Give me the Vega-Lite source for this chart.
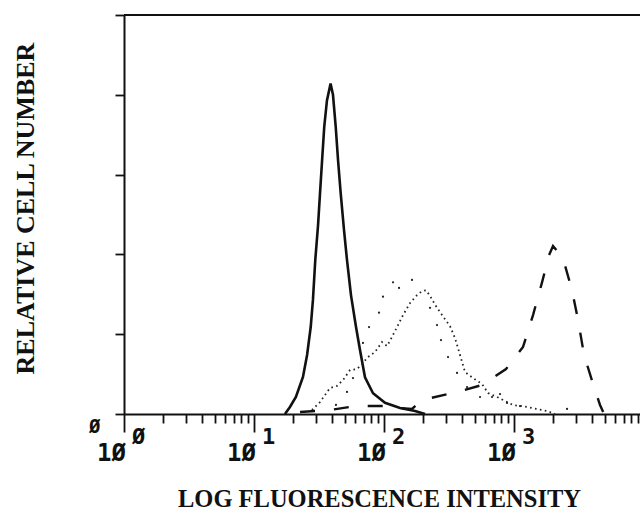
{
  "$schema": "https://vega.github.io/schema/vega-lite/v6.json",
  "autosize": {"type": "none"},
  "padding": {"left": 124, "top": 15, "right": 0, "bottom": 101},
  "width": 516,
  "height": 399,
  "background": "white",
  "config": {"view": {"stroke": null}},
  "datasets": {
    "solid": [
      {"x": 17.3, "y": 0}, {"x": 18.9, "y": 0.088}, {"x": 21.0, "y": 0.213}, {"x": 23.8, "y": 0.464},
      {"x": 25.6, "y": 0.739}, {"x": 27.3, "y": 1.09}, {"x": 28.4, "y": 1.43}, {"x": 29.6, "y": 1.93},
      {"x": 31.1, "y": 2.37}, {"x": 32.2, "y": 2.77}, {"x": 33.4, "y": 3.18}, {"x": 34.7, "y": 3.6},
      {"x": 36.4, "y": 3.93}, {"x": 38.8, "y": 4.14}, {"x": 40.5, "y": 4.0}, {"x": 42.5, "y": 3.6},
      {"x": 44.3, "y": 3.18}, {"x": 46.4, "y": 2.77}, {"x": 49.2, "y": 2.31}, {"x": 51.9, "y": 1.93},
      {"x": 55.7, "y": 1.49}, {"x": 60.9, "y": 1.09}, {"x": 65.4, "y": 0.8}, {"x": 71.4, "y": 0.46},
      {"x": 82.3, "y": 0.26}, {"x": 101.8, "y": 0.14}, {"x": 132.8, "y": 0.075}, {"x": 173.2, "y": 0.038},
      {"x": 206.7, "y": 0}
    ],
    "dotted": [
      {"x": 27.9, "y": 0.05}, {"x": 32.2, "y": 0.15}, {"x": 38.4, "y": 0.326}, {"x": 43.5, "y": 0.351},
      {"x": 48.4, "y": 0.426}, {"x": 54.8, "y": 0.551}, {"x": 62.0, "y": 0.564}, {"x": 67.7, "y": 0.627},
      {"x": 75.3, "y": 0.714}, {"x": 85.3, "y": 0.777}, {"x": 96.5, "y": 0.902}, {"x": 105.5, "y": 0.852},
      {"x": 115.2, "y": 0.965}, {"x": 125.9, "y": 1.09}, {"x": 140.0, "y": 1.24}, {"x": 158.5, "y": 1.39},
      {"x": 179.4, "y": 1.49}, {"x": 196.0, "y": 1.54}, {"x": 210.4, "y": 1.55}, {"x": 225.9, "y": 1.48},
      {"x": 246.8, "y": 1.37}, {"x": 279.4, "y": 1.24}, {"x": 321.9, "y": 1.1}, {"x": 351.8, "y": 0.95},
      {"x": 384.2, "y": 0.74}, {"x": 419.9, "y": 0.526}, {"x": 483.8, "y": 0.451}, {"x": 567.4, "y": 0.376},
      {"x": 631, "y": 0.263}, {"x": 739.8, "y": 0.213}, {"x": 823.1, "y": 0.175}, {"x": 982.5, "y": 0.113},
      {"x": 1259, "y": 0.088}, {"x": 1503, "y": 0.063}, {"x": 1794, "y": 0.038}, {"x": 2068, "y": 0}
    ],
    "sparse": [
      {"x": 42.7, "y": 0.113}, {"x": 51.9, "y": 0.276}, {"x": 57.7, "y": 0.451}, {"x": 68.9, "y": 0.89},
      {"x": 76.7, "y": 1.09}, {"x": 91.5, "y": 1.27}, {"x": 98.2, "y": 1.47}, {"x": 117.3, "y": 1.65},
      {"x": 130.5, "y": 1.58}, {"x": 164.2, "y": 1.68}, {"x": 225.9, "y": 1.33}, {"x": 255.7, "y": 1.115},
      {"x": 274.4, "y": 0.927}, {"x": 310.7, "y": 0.714}, {"x": 364.5, "y": 0.514}, {"x": 435.1, "y": 0.338},
      {"x": 547.7, "y": 0.213}, {"x": 677.3, "y": 0.213}, {"x": 780.3, "y": 0.25}, {"x": 883.5, "y": 0.138},
      {"x": 1112, "y": 0.1}, {"x": 2557, "y": 0.063}
    ],
    "dashed": [
      {"x": 22.6, "y": 0.025}, {"x": 38.4, "y": 0.05}, {"x": 54.8, "y": 0.088}, {"x": 71.4, "y": 0.1},
      {"x": 101.8, "y": 0.1}, {"x": 132.8, "y": 0.075}, {"x": 164.2, "y": 0.063}, {"x": 196.0, "y": 0.175},
      {"x": 310.7, "y": 0.25}, {"x": 364.5, "y": 0.276}, {"x": 567.4, "y": 0.363}, {"x": 868, "y": 0.564},
      {"x": 1173, "y": 0.84}, {"x": 1400, "y": 1.24}, {"x": 1642, "y": 1.65}, {"x": 1859, "y": 1.99},
      {"x": 1995, "y": 2.105}, {"x": 2181, "y": 2.03}, {"x": 2382, "y": 1.95}, {"x": 2794, "y": 1.55},
      {"x": 3107, "y": 1.18}, {"x": 3456, "y": 0.74}, {"x": 4125, "y": 0.338}, {"x": 4586, "y": 0.113},
      {"x": 4923, "y": 0}
    ],
    "labels": [
      {"x": 1, "base": "1Ø", "exp": "Ø"},
      {"x": 10, "base": "1Ø", "exp": "1"},
      {"x": 100, "base": "1Ø", "exp": "2"},
      {"x": 1000, "base": "1Ø", "exp": "3"}
    ]
  },
  "layer": [
    {
      "data": {"name": "solid"},
      "mark": {"type": "line", "color": "#111", "strokeWidth": 2.6, "interpolate": "linear"},
      "encoding": {
        "x": {
          "field": "x", "type": "quantitative",
          "scale": {"type": "log", "domain": [1, 9310], "nice": false},
          "axis": {
            "values": [1,2,3,4,5,6,7,8,9,10,20,30,40,50,60,70,80,90,100,200,300,400,500,600,700,800,900,1000,2000,3000,4000,5000,6000,7000,8000,9000],
            "labels": false, "grid": false,
            "domainColor": "#111", "domainWidth": 2,
            "tickColor": "#111", "tickWidth": 1.8,
            "tickSize": {"condition": {"test": "abs(log(datum.value)/LN10 - round(log(datum.value)/LN10)) < 0.001", "value": 18}, "value": 9},
            "title": "LOG FLUORESCENCE INTENSITY",
            "titleFont": "Liberation Serif", "titleFontSize": 24.5, "titleFontWeight": "bold", "titleColor": "#111",
            "titleX": 255, "titleY": 92, "titleAlign": "center", "titleBaseline": "alphabetic"
          }
        },
        "y": {
          "field": "y", "type": "quantitative",
          "scale": {"domain": [0, 5], "nice": false},
          "axis": {
            "values": [0, 1, 2, 3, 4, 5], "grid": false,
            "domainColor": "#111", "domainWidth": 2,
            "tickColor": "#111", "tickWidth": 1.8, "tickSize": 9,
            "labelExpr": "datum.value === 0 ? 'Ø' : ''",
            "labelFont": "DejaVu Sans Mono", "labelFontSize": 19, "labelFontWeight": "bold", "labelColor": "#111",
            "labelBaseline": "top", "labelPadding": 15, "labelOffset": 3, "labelFlush": false, "labelOverlap": false,
            "title": "RELATIVE CELL NUMBER",
            "titleFont": "Liberation Serif", "titleFontSize": 26, "titleFontWeight": "bold", "titleColor": "#111",
            "titleX": -91, "titleY": 193, "titleAngle": -90, "titleAlign": "center", "titleBaseline": "alphabetic"
          }
        }
      }
    },
    {
      "data": {"name": "dotted"},
      "mark": {"type": "line", "color": "#222", "strokeWidth": 1.8, "strokeDash": [1.6, 3.4]},
      "encoding": {"x": {"field": "x", "type": "quantitative"}, "y": {"field": "y", "type": "quantitative"}}
    },
    {
      "data": {"name": "sparse"},
      "mark": {"type": "point", "filled": true, "color": "#222", "size": 5, "opacity": 1},
      "encoding": {"x": {"field": "x", "type": "quantitative"}, "y": {"field": "y", "type": "quantitative"}}
    },
    {
      "data": {"name": "dashed"},
      "mark": {"type": "line", "color": "#111", "strokeWidth": 2.4, "strokeDash": [15, 19]},
      "encoding": {"x": {"field": "x", "type": "quantitative"}, "y": {"field": "y", "type": "quantitative"}}
    },
    {
      "data": {"values": [{"top": 5}]},
      "mark": {"type": "rule", "color": "#111", "strokeWidth": 2},
      "encoding": {"y": {"field": "top", "type": "quantitative"}}
    },
    {
      "data": {"name": "labels"},
      "mark": {"type": "text", "font": "DejaVu Sans Mono", "fontSize": 24, "fontWeight": "bold", "align": "right", "baseline": "alphabetic", "dx": 2, "dy": 47, "color": "#111"},
      "encoding": {
        "x": {"field": "x", "type": "quantitative"},
        "y": {"datum": 0},
        "text": {"field": "base"}
      }
    },
    {
      "data": {"name": "labels"},
      "mark": {"type": "text", "font": "DejaVu Sans Mono", "fontSize": 22, "fontWeight": "bold", "align": "left", "baseline": "alphabetic", "dx": 8, "dy": 30, "color": "#111"},
      "encoding": {
        "x": {"field": "x", "type": "quantitative"},
        "y": {"datum": 0},
        "text": {"field": "exp"}
      }
    }
  ]
}
